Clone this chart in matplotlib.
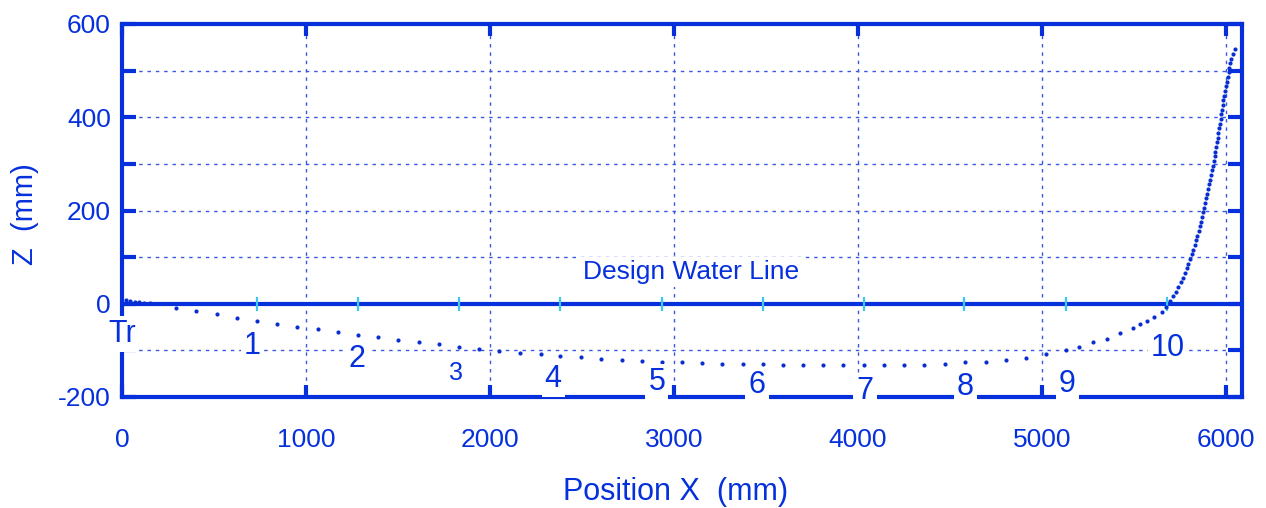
import matplotlib
matplotlib.use('Agg')
import matplotlib.pyplot as plt
from matplotlib.ticker import MultipleLocator, FuncFormatter

plt.rcParams['font.family'] = ['Liberation Sans', 'DejaVu Sans']

blue = '#0530dc'
grid_blue = '#3a58e4'
cyan = '#3cc8f0'

# keel / profile points (mm)
x_pts = [20, 45, 70, 95, 120, 150,
         293, 402, 515, 623, 732, 844, 953, 1063, 1172, 1281, 1393, 1502, 1614,
         1723, 1833, 1942, 2051, 2163, 2275, 2380, 2495, 2603, 2716, 2824, 2933,
         3042, 3154, 3263, 3375, 3482, 3594, 3703, 3812, 3920, 4033, 4141, 4252,
         4360, 4473, 4582, 4694, 4803, 4913, 5022, 5130, 5203, 5279, 5351, 5424,
         5496, 5533, 5569, 5610, 5650, 5672,
         5696, 5710, 5726, 5741, 5755, 5768, 5779, 5788, 5795, 5804, 5815, 5822,
         5830, 5837, 5844, 5851, 5859, 5864, 5870, 5875, 5882, 5888, 5893, 5899,
         5904, 5909, 5915, 5920, 5924, 5929, 5933, 5938, 5942, 5946, 5951, 5955,
         5958, 5962, 5967, 5971, 5975, 5978, 5982, 5986, 5989, 5993, 5998, 6004,
         6009, 6014, 6018, 6024, 6029, 6036, 6049]
z_pts = [8, 6, 4, 3, 2, 1,
         -8.5, -16, -23, -30, -36, -43, -49, -55, -61, -66, -72, -78, -83,
         -87, -92, -97, -101, -105, -108, -111, -115, -118, -121, -123, -124,
         -126, -127, -129, -130, -130, -131, -132, -132, -132, -132, -132, -132,
         -131, -129, -126, -125, -120, -116, -108, -99, -92, -83, -75, -63,
         -53, -44, -38, -29, -17, -6,
         6, 16, 26, 36, 46, 56, 66, 76, 86, 96, 106, 116,
         126, 136, 146, 156, 166, 176, 186, 196, 206, 216, 226, 236,
         246, 256, 266, 276, 286, 296, 306, 316, 326, 336, 346, 356,
         366, 376, 386, 396, 406, 416, 426, 436, 446, 456, 466, 476,
         486, 496, 506, 516, 526, 536, 546]

# stations on the water line
station_x = [0, 732, 1281, 1832, 2380, 2933, 3482, 4033, 4578, 5130, 5678]
station_names = ['Tr', '1', '2', '3', '4', '5', '6', '7', '8', '9', '10']
label_x = [0, 707, 1277, 1815, 2343, 2907, 3451, 4038, 4582, 5136, 5685]
label_z = [-82, -108, -135, -164, -178, -185, -191, -204, -196, -189, -112]
label_size = [22, 22, 22, 18, 22, 22, 22, 22, 22, 22, 22]

fig = plt.figure(figsize=(12.66, 5.08), dpi=100)
ax = fig.add_axes([122/1266, 111/508, 1120/1266, 373/508])

ax.set_xlim(0, 6087)
ax.set_ylim(-200, 600)

ax.xaxis.set_major_locator(MultipleLocator(1000))
ax.yaxis.set_major_locator(MultipleLocator(100))
ax.yaxis.set_major_formatter(FuncFormatter(lambda v, p: '%d' % v if int(round(v)) % 200 == 0 else ''))

ax.grid(True, color=grid_blue, lw=1.0, linestyle=(0, (2.5, 3.5)))

for s in ax.spines.values():
    s.set_linewidth(3)
    s.set_color(blue)

ax.tick_params(axis='both', direction='in', width=3, color=blue, labelcolor=blue, labelsize=19)
ax.tick_params(axis='y', length=10, pad=8, right=True)
ax.tick_params(axis='x', length=8.5, pad=22, top=True)

# water line and station marks
ax.axhline(0, color=blue, lw=3, zorder=2)
ax.vlines(station_x, -16, 14, color=cyan, lw=1.6, zorder=2.2)

ax.plot(x_pts, z_pts, linestyle='none', marker='o', markersize=3,
        color='#0a2fd0', markeredgewidth=0, zorder=2.4, clip_on=False)

ax.text(3092, 53, 'Design Water Line', ha='center', va='baseline', fontsize=19,
        color=blue, bbox=dict(boxstyle='square,pad=0.1', fc='white', ec='none'), zorder=3)

for name, lx, lz, fs in zip(station_names, label_x, label_z, label_size):
    ax.text(lx, lz, name, ha='center', va='baseline', fontsize=fs, color=blue,
            bbox=dict(boxstyle='square,pad=0.1', fc='white', ec='none'),
            zorder=3, clip_on=False)

ax.set_xlabel('Position X  (mm)', fontsize=22, color=blue)
ax.set_ylabel('Z  (mm)', fontsize=21, color=blue)
ax.xaxis.set_label_coords(0.494, -0.215)
ax.yaxis.set_label_coords(-0.074, 0.49)

fig.savefig('out.png', dpi=100)
